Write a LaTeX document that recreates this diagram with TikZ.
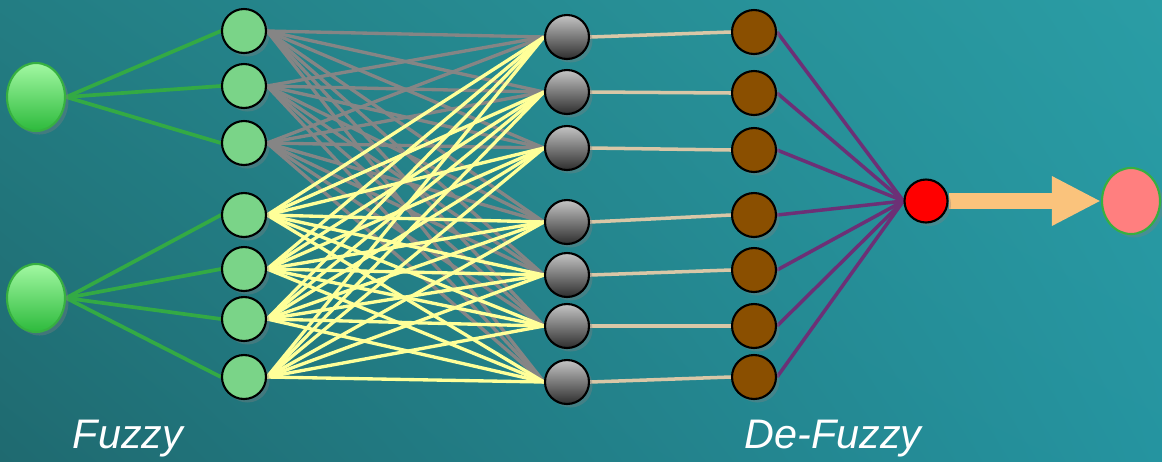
\documentclass[tikz,border=0pt]{standalone}
\usepackage{fontspec}
\setmainfont{Liberation Sans}
\usetikzlibrary{arrows.meta,shadows,shapes.geometric,shadings}
\pgfdeclarelayer{bg}
\pgfdeclarelayer{edges}
\pgfsetlayers{bg,edges,main}
\definecolor{bgUL}{HTML}{237D83}
\definecolor{bgUR}{HTML}{2A9DA5}
\definecolor{bgLL}{HTML}{1F6A70}
\definecolor{bgLR}{HTML}{2594A0}
\definecolor{fuzzyfill}{HTML}{7AD488}
\definecolor{ingreen}{HTML}{36B040}
\definecolor{inlight}{HTML}{A2F8A2}
\definecolor{indark}{HTML}{2DBA3C}
\definecolor{brownfill}{HTML}{8A4F00}
\definecolor{linegreen}{HTML}{33AA44}
\definecolor{linegray}{HTML}{858585}
\definecolor{lineyellow}{HTML}{FFFF99}
\definecolor{linebeige}{HTML}{D9C7A7}
\definecolor{linepurple}{HTML}{6C3076}
\definecolor{arrowc}{HTML}{FAC37C}
\definecolor{pinkfill}{HTML}{FF7F7F}
\definecolor{graytop}{HTML}{C4C4C4}
\definecolor{graybot}{HTML}{2E2E2E}
\tikzset{
  nshadow/.style={drop shadow={opacity=0.35,shadow xshift=2pt,shadow yshift=-2pt}},
  innode/.style={ellipse,minimum width=1.16cm,minimum height=1.36cm,inner sep=0pt,
    draw=ingreen,line width=1.2pt,top color=inlight,bottom color=indark,nshadow},
  fznode/.style={circle,minimum size=0.88cm,inner sep=0pt,draw=black,line width=1.2pt,fill=fuzzyfill,nshadow},
  grnode/.style={circle,minimum size=0.88cm,inner sep=0pt,draw=black,line width=1.2pt,top color=graytop,bottom color=graybot,nshadow},
  brnode/.style={circle,minimum size=0.88cm,inner sep=0pt,draw=black,line width=1.2pt,fill=brownfill,nshadow},
  rednode/.style={circle,minimum size=0.86cm,inner sep=0pt,draw=black,line width=1.2pt,fill=red,nshadow},
  outnode/.style={ellipse,minimum width=1.16cm,minimum height=1.32cm,inner sep=0pt,draw=ingreen,line width=1.2pt,fill=pinkfill,nshadow},
  gline/.style={draw=linegreen,line width=2.1pt},
  grayline/.style={draw=linegray,line width=1.9pt},
  yline/.style={draw=lineyellow,line width=1.9pt},
  bline/.style={draw=linebeige,line width=2pt},
  pline/.style={draw=linepurple,line width=2pt},
  bigarrow/.style={draw=arrowc,line width=0.32cm,-{Triangle[length=0.98cm,width=0.92cm]}},
  lbl/.style={text=white,font=\itshape\fontsize{23.5}{26}\selectfont,inner sep=0pt,anchor=base}
}
\begin{document}
\begin{tikzpicture}[x=0.02cm,y=-0.02cm]
\useasboundingbox (0,0) rectangle (1162,461);
\begin{pgfonlayer}{bg}
\shade[upper left=bgUL,upper right=bgUR,lower left=bgLL,lower right=bgLR] (0,0) rectangle (1162,461);
\end{pgfonlayer}
% nodes
\node[innode] (i1) at (36,97) {};
\node[innode] (i2) at (36,298) {};
\foreach \n/\y in {1/31,2/86,3/143,4/215,5/269,6/319,7/377}
  \node[fznode] (f\n) at (244,\y) {};
\foreach \n/\y in {1/37,2/92,3/148,4/222,5/275,6/326,7/382}
  \node[grnode] (g\n) at (567,\y) {};
\foreach \n/\y in {1/32,2/93,3/150,4/215,5/270,6/326,7/377}
  \node[brnode] (b\n) at (754,\y) {};
\node[rednode] (r) at (926,201) {};
\node[outnode] (o) at (1131,201) {};
% labels
\node[lbl] (t1) at (128,448) {Fuzzy};
\node[lbl] (t2) at (833,448) {De-Fuzzy};
% connectors
\begin{pgfonlayer}{edges}
\foreach \k in {1,2,3} \draw[gline] (i1.east) -- (f\k.west);
\foreach \k in {4,5,6,7} \draw[gline] (i2.east) -- (f\k.west);
\foreach \a in {1,2,3} \foreach \b in {1,...,7} \draw[grayline] (f\a.east) -- (g\b.west);
\foreach \a in {4,5,6,7} \foreach \b in {1,...,7} \draw[yline] (f\a.east) -- (g\b.west);
\foreach \k in {1,...,7} \draw[bline] (g\k.east) -- (b\k.west);
\foreach \k in {1,...,7} \draw[pline] (b\k.east) -- (r.west);
\draw[bigarrow] (r.east) -- (o.west);
\end{pgfonlayer}
\end{tikzpicture}
\end{document}
